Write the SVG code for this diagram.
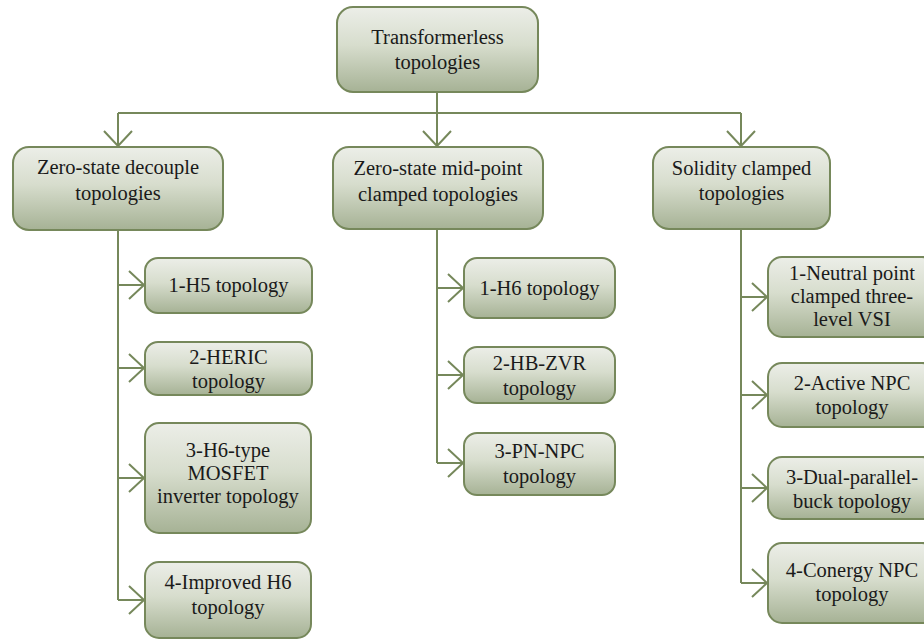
<svg xmlns="http://www.w3.org/2000/svg" width="924" height="641" viewBox="0 0 924 641">
<defs>
<linearGradient id="g" x1="0" y1="0" x2="0" y2="1">
<stop offset="0" stop-color="#eceee8"/>
<stop offset="0.45" stop-color="#d7ddcd"/>
<stop offset="1" stop-color="#a6b295"/>
</linearGradient>
<marker id="arr" markerUnits="userSpaceOnUse" markerWidth="20" markerHeight="32" viewBox="0 0 20 32" refX="17" refY="16" orient="auto">
<path d="M2,2 L17,16 L2,30" fill="none" stroke="#76885b" stroke-width="2"/>
</marker>
<style>
.box{fill:url(#g);stroke:#76885b;stroke-width:2}
text{font-family:"Liberation Serif","DejaVu Serif",serif;font-size:20.5px;fill:#1a1a1a;text-anchor:middle}
.c{fill:none;stroke:#76885b;stroke-width:2}
</style>
</defs>
<g id="connectors">
<path class="c" d="M437,92 V113 M118,113 H741"/>
<path class="c" d="M118,113 V146" marker-end="url(#arr)"/>
<path class="c" d="M437,113 V146" marker-end="url(#arr)"/>
<path class="c" d="M741,113 V146" marker-end="url(#arr)"/>
<path class="c" d="M118,230 V600"/>
<path class="c" d="M118,285 H144" marker-end="url(#arr)"/>
<path class="c" d="M118,368 H144" marker-end="url(#arr)"/>
<path class="c" d="M118,478 H144" marker-end="url(#arr)"/>
<path class="c" d="M118,600 H144" marker-end="url(#arr)"/>
<path class="c" d="M437,229 V463"/>
<path class="c" d="M437,288 H463" marker-end="url(#arr)"/>
<path class="c" d="M437,375 H463" marker-end="url(#arr)"/>
<path class="c" d="M437,463 H463" marker-end="url(#arr)"/>
<path class="c" d="M741,229 V583"/>
<path class="c" d="M741,297 H767" marker-end="url(#arr)"/>
<path class="c" d="M741,395 H767" marker-end="url(#arr)"/>
<path class="c" d="M741,488 H767" marker-end="url(#arr)"/>
<path class="c" d="M741,583 H767" marker-end="url(#arr)"/>
</g>
<g id="root">
<rect class="box" x="337" y="7" width="201" height="85" rx="16"/>
<text x="437.5" y="44">Transformerless</text>
<text x="437.5" y="69">topologies</text>
</g>
<g id="zero-state-decouple">
<rect class="box" x="13" y="147" width="210" height="83" rx="16"/>
<text x="118" y="174">Zero-state decouple</text>
<text x="118" y="200">topologies</text>
</g>
<g id="zero-state-midpoint">
<rect class="box" x="333" y="147" width="210" height="82" rx="16"/>
<text x="438" y="175">Zero-state mid-point</text>
<text x="438" y="201">clamped topologies</text>
</g>
<g id="solidity-clamped">
<rect class="box" x="653" y="147" width="177" height="82" rx="16"/>
<text x="741.5" y="175">Solidity clamped</text>
<text x="741.5" y="200">topologies</text>
</g>
<g id="h5">
<rect class="box" x="145" y="258" width="167" height="55" rx="13"/>
<text x="228.5" y="292">1-H5 topology</text>
</g>
<g id="heric">
<rect class="box" x="145" y="342" width="167" height="53" rx="13"/>
<text x="228.5" y="364">2-HERIC</text>
<text x="228.5" y="388">topology</text>
</g>
<g id="h6-type">
<rect class="box" x="145" y="423" width="166" height="110" rx="14"/>
<text x="228" y="457">3-H6-type</text>
<text x="228" y="480">MOSFET</text>
<text x="228" y="503">inverter topology</text>
</g>
<g id="improved-h6">
<rect class="box" x="145" y="562" width="166" height="76" rx="14"/>
<text x="228" y="589">4-Improved H6</text>
<text x="228" y="614">topology</text>
</g>
<g id="h6">
<rect class="box" x="464" y="258" width="151" height="60" rx="13"/>
<text x="539.5" y="295">1-H6 topology</text>
</g>
<g id="hb-zvr">
<rect class="box" x="464" y="347" width="151" height="56" rx="13"/>
<text x="539.5" y="370">2-HB-ZVR</text>
<text x="539.5" y="395">topology</text>
</g>
<g id="pn-npc">
<rect class="box" x="464" y="433" width="151" height="62" rx="13"/>
<text x="539.5" y="458">3-PN-NPC</text>
<text x="539.5" y="483">topology</text>
</g>
<g id="npc-three-level">
<rect class="box" x="768" y="257" width="168" height="80" rx="14"/>
<text x="852" y="280">1-Neutral point</text>
<text x="852" y="303">clamped three-</text>
<text x="852" y="326">level VSI</text>
</g>
<g id="active-npc">
<rect class="box" x="768" y="363" width="168" height="64" rx="14"/>
<text x="852" y="390">2-Active NPC</text>
<text x="852" y="414">topology</text>
</g>
<g id="dual-parallel-buck">
<rect class="box" x="768" y="457" width="168" height="62" rx="14"/>
<text x="852" y="484">3-Dual-parallel-</text>
<text x="852" y="508">buck topology</text>
</g>
<g id="conergy-npc">
<rect class="box" x="768" y="543" width="168" height="80" rx="14"/>
<text x="852" y="577">4-Conergy NPC</text>
<text x="852" y="601">topology</text>
</g>
</svg>
